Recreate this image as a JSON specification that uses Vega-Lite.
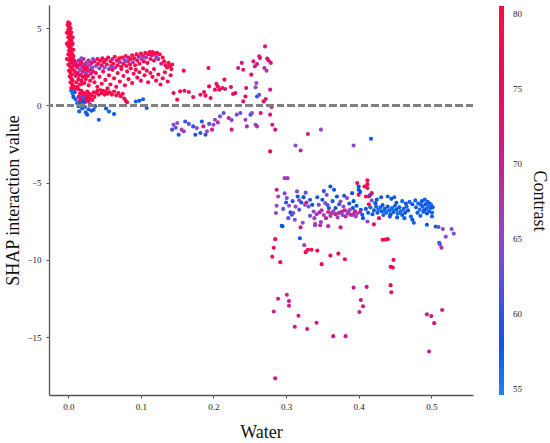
{
  "$schema": "https://vega.github.io/schema/vega-lite/v6.json",
  "width": 424,
  "height": 390,
  "autosize": {"type": "none"},
  "padding": {"left": 49, "top": 5, "right": 77, "bottom": 48},
  "config": {"view": {"stroke": null}, "font": "Liberation Serif"},
  "data": {
    "values": [
      {"w":0.000,"s":5.38,"c":80},{"w":0.002,"s":5.28,"c":80},{"w":-0.001,"s":5.2,"c":79},{"w":0.001,"s":5.1,"c":80},{"w":0.003,"s":5.0,"c":79},{"w":0.000,"s":4.92,"c":80},{"w":0.002,"s":4.82,"c":80},{"w":0.004,"s":4.72,"c":79},{"w":0.001,"s":4.62,"c":80},{"w":0.003,"s":4.52,"c":79},{"w":0.000,"s":4.42,"c":80},{"w":0.002,"s":4.33,"c":80},{"w":0.004,"s":4.22,"c":79},{"w":0.001,"s":4.12,"c":80},{"w":0.003,"s":4.02,"c":80},{"w":0.005,"s":3.92,"c":78},{"w":0.000,"s":3.85,"c":80},{"w":0.002,"s":3.75,"c":79},{"w":0.004,"s":3.65,"c":80},{"w":0.001,"s":3.55,"c":80},{"w":0.003,"s":3.45,"c":79},{"w":0.005,"s":3.35,"c":78},{"w":0.000,"s":3.3,"c":80},{"w":0.002,"s":3.2,"c":79},{"w":0.004,"s":3.1,"c":80},{"w":0.006,"s":3.02,"c":77},{"w":0.001,"s":2.95,"c":80},{"w":0.003,"s":2.85,"c":79},{"w":0.005,"s":2.75,"c":78},{"w":0.000,"s":2.65,"c":80},{"w":0.002,"s":2.55,"c":79},{"w":0.004,"s":2.45,"c":80},{"w":0.006,"s":2.35,"c":77},{"w":0.001,"s":2.25,"c":80},{"w":0.003,"s":2.12,"c":79},{"w":0.005,"s":2.0,"c":78},{"w":0.002,"s":1.88,"c":80},{"w":0.004,"s":1.75,"c":79},{"w":0.006,"s":1.62,"c":78},{"w":0.003,"s":1.5,"c":80},{"w":0.005,"s":1.38,"c":79},{"w":0.007,"s":1.25,"c":78},{"w":0.004,"s":1.12,"c":80},
      {"w":0.006,"s":4.4,"c":79},{"w":0.006,"s":4.0,"c":78},{"w":0.007,"s":3.6,"c":79},{"w":0.007,"s":3.2,"c":78},{"w":0.008,"s":2.9,"c":77},{"w":-0.002,"s":4.7,"c":80},{"w":-0.002,"s":4.0,"c":80},{"w":-0.002,"s":3.0,"c":80},
      {"w":0.008,"s":2.6,"c":76},{"w":0.009,"s":2.2,"c":79},{"w":0.010,"s":1.9,"c":78},{"w":0.010,"s":2.75,"c":72},{"w":0.011,"s":1.5,"c":79},{"w":0.012,"s":2.45,"c":70},{"w":0.012,"s":1.2,"c":80},{"w":0.013,"s":2.1,"c":75},{"w":0.014,"s":2.9,"c":68},{"w":0.014,"s":1.7,"c":78},{"w":0.015,"s":2.6,"c":73},{"w":0.016,"s":2.3,"c":66},{"w":0.016,"s":1.35,"c":79},{"w":0.017,"s":2.0,"c":77},{"w":0.018,"s":2.8,"c":74},{"w":0.018,"s":1.6,"c":76},{"w":0.019,"s":2.5,"c":65},{"w":0.020,"s":2.2,"c":72},{"w":0.020,"s":1.85,"c":78},{"w":0.021,"s":3.0,"c":70},{"w":0.022,"s":2.65,"c":67},{"w":0.022,"s":1.45,"c":79},{"w":0.023,"s":2.35,"c":75},{"w":0.024,"s":2.05,"c":64},{"w":0.024,"s":1.7,"c":77},{"w":0.025,"s":2.75,"c":72},{"w":0.026,"s":2.5,"c":78},{"w":0.026,"s":2.2,"c":69},{"w":0.027,"s":1.9,"c":76},{"w":0.028,"s":2.9,"c":73},{"w":0.028,"s":1.3,"c":78},{"w":0.029,"s":2.6,"c":66},{"w":0.030,"s":2.3,"c":74},{"w":0.030,"s":1.6,"c":79},{"w":0.031,"s":2.05,"c":70},{"w":0.032,"s":2.75,"c":76},{"w":0.033,"s":2.45,"c":64},{"w":0.034,"s":1.8,"c":77},{"w":0.034,"s":2.2,"c":72},{"w":0.011,"s":2.0,"c":74},{"w":0.013,"s":2.6,"c":77},{"w":0.015,"s":1.95,"c":71},{"w":0.017,"s":2.7,"c":79},{"w":0.019,"s":1.4,"c":80},{"w":0.021,"s":2.45,"c":76},{"w":0.023,"s":1.9,"c":79},{"w":0.025,"s":2.35,"c":79},{"w":0.027,"s":2.8,"c":65},{"w":0.009,"s":1.05,"c":78},{"w":0.014,"s":1.05,"c":79},{"w":0.018,"s":3.05,"c":67},
      {"w":0.036,"s":2.85,"c":78},{"w":0.038,"s":2.55,"c":66},{"w":0.040,"s":3.0,"c":79},{"w":0.041,"s":2.7,"c":77},{"w":0.043,"s":2.4,"c":64},{"w":0.044,"s":2.9,"c":80},{"w":0.046,"s":2.6,"c":72},{"w":0.047,"s":3.05,"c":78},{"w":0.049,"s":2.8,"c":79},{"w":0.050,"s":2.45,"c":65},{"w":0.052,"s":2.95,"c":77},{"w":0.053,"s":2.65,"c":80},{"w":0.055,"s":3.1,"c":76},{"w":0.056,"s":2.35,"c":67},{"w":0.058,"s":2.85,"c":79},{"w":0.059,"s":2.55,"c":78},{"w":0.061,"s":3.0,"c":70},{"w":0.062,"s":2.7,"c":80},{"w":0.064,"s":3.15,"c":78},{"w":0.065,"s":2.45,"c":66},{"w":0.067,"s":2.9,"c":77},{"w":0.068,"s":2.6,"c":79},{"w":0.070,"s":3.05,"c":79},{"w":0.071,"s":2.8,"c":68},{"w":0.073,"s":2.5,"c":78},{"w":0.074,"s":3.1,"c":80},{"w":0.076,"s":2.7,"c":76},{"w":0.077,"s":2.95,"c":65},{"w":0.079,"s":3.2,"c":78},{"w":0.080,"s":2.55,"c":79},{"w":0.082,"s":2.85,"c":77},{"w":0.083,"s":3.1,"c":71},{"w":0.085,"s":2.65,"c":80},{"w":0.086,"s":3.0,"c":78},{"w":0.088,"s":3.25,"c":79},{"w":0.089,"s":2.8,"c":66},{"w":0.091,"s":3.05,"c":77},{"w":0.092,"s":2.6,"c":79},{"w":0.094,"s":3.3,"c":78},{"w":0.095,"s":2.9,"c":80},{"w":0.097,"s":3.15,"c":69},{"w":0.098,"s":2.7,"c":78},{"w":0.100,"s":3.35,"c":79},{"w":0.101,"s":3.0,"c":77},{"w":0.103,"s":3.2,"c":80},{"w":0.104,"s":2.85,"c":76},{"w":0.106,"s":3.4,"c":78},{"w":0.107,"s":3.1,"c":67},{"w":0.109,"s":2.75,"c":79},{"w":0.110,"s":3.3,"c":78},{"w":0.112,"s":3.45,"c":80},{"w":0.113,"s":3.0,"c":77},{"w":0.115,"s":3.25,"c":79},{"w":0.116,"s":3.45,"c":78},{"w":0.118,"s":2.9,"c":76},{"w":0.119,"s":3.35,"c":79},{"w":0.121,"s":3.15,"c":65},{"w":0.122,"s":3.4,"c":78},{"w":0.124,"s":3.0,"c":77},{"w":0.126,"s":3.3,"c":80},{"w":0.128,"s":2.7,"c":70},{"w":0.130,"s":3.1,"c":78},{"w":0.132,"s":2.85,"c":79},{"w":0.134,"s":2.6,"c":77},{"w":0.136,"s":2.45,"c":80},{"w":0.138,"s":2.75,"c":78},{"w":0.140,"s":2.55,"c":79},{"w":0.142,"s":2.35,"c":78},{"w":0.143,"s":2.65,"c":77},
      {"w":0.034,"s":3.0,"c":64},{"w":0.060,"s":2.5,"c":63},{"w":0.080,"s":2.85,"c":64},{"w":0.101,"s":3.07,"c":65},{"w":0.122,"s":3.05,"c":64},
      {"w":0.036,"s":1.5,"c":79},{"w":0.038,"s":2.1,"c":78},{"w":0.040,"s":1.2,"c":80},{"w":0.043,"s":1.85,"c":77},{"w":0.046,"s":1.4,"c":79},{"w":0.048,"s":2.2,"c":78},{"w":0.051,"s":1.65,"c":80},{"w":0.054,"s":1.1,"c":79},{"w":0.056,"s":1.95,"c":76},{"w":0.058,"s":1.35,"c":78},{"w":0.061,"s":2.3,"c":79},{"w":0.063,"s":1.75,"c":80},{"w":0.066,"s":1.2,"c":78},{"w":0.068,"s":2.1,"c":77},{"w":0.071,"s":1.55,"c":79},{"w":0.073,"s":2.35,"c":80},{"w":0.076,"s":1.9,"c":78},{"w":0.078,"s":1.3,"c":79},{"w":0.081,"s":2.2,"c":76},{"w":0.083,"s":1.7,"c":80},{"w":0.086,"s":2.4,"c":78},{"w":0.088,"s":1.45,"c":79},{"w":0.090,"s":2.05,"c":77},{"w":0.093,"s":2.3,"c":80},{"w":0.095,"s":1.8,"c":78},{"w":0.098,"s":2.15,"c":79},{"w":0.100,"s":1.6,"c":76},{"w":0.103,"s":2.4,"c":78},{"w":0.105,"s":1.95,"c":80},{"w":0.108,"s":2.25,"c":79},{"w":0.110,"s":1.5,"c":78},{"w":0.113,"s":2.1,"c":77},{"w":0.116,"s":1.85,"c":79},{"w":0.118,"s":2.35,"c":80},{"w":0.121,"s":1.6,"c":78},{"w":0.124,"s":2.0,"c":79},{"w":0.127,"s":1.35,"c":77},{"w":0.130,"s":1.75,"c":78},{"w":0.133,"s":2.15,"c":79},{"w":0.137,"s":1.55,"c":78},{"w":0.141,"s":1.95,"c":76},
      {"w":0.016,"s":0.75,"c":79},{"w":0.017,"s":0.45,"c":78},{"w":0.018,"s":0.95,"c":80},{"w":0.019,"s":0.6,"c":79},{"w":0.020,"s":0.3,"c":77},{"w":0.021,"s":0.8,"c":80},{"w":0.022,"s":0.5,"c":78},{"w":0.023,"s":0.2,"c":79},{"w":0.024,"s":0.7,"c":80},{"w":0.025,"s":0.4,"c":76},{"w":0.026,"s":0.9,"c":79},{"w":0.027,"s":0.55,"c":78},{"w":0.028,"s":0.25,"c":80},{"w":0.029,"s":0.75,"c":79},{"w":0.030,"s":0.45,"c":77},{"w":0.032,"s":0.65,"c":80},{"w":0.033,"s":0.35,"c":78},{"w":0.035,"s":0.85,"c":79},{"w":0.036,"s":0.55,"c":80},{"w":0.038,"s":0.8,"c":78},{"w":0.040,"s":0.95,"c":79},{"w":0.042,"s":0.7,"c":77},{"w":0.044,"s":1.0,"c":80},{"w":0.046,"s":0.8,"c":79},{"w":0.048,"s":0.95,"c":78},{"w":0.050,"s":0.7,"c":80},{"w":0.052,"s":0.9,"c":79},{"w":0.054,"s":0.75,"c":78},{"w":0.057,"s":0.85,"c":79},{"w":0.060,"s":0.7,"c":80},{"w":0.063,"s":0.9,"c":77},{"w":0.066,"s":0.65,"c":79},{"w":0.069,"s":0.8,"c":78},{"w":0.072,"s":0.6,"c":80},{"w":0.075,"s":0.75,"c":79},{"w":0.077,"s":0.45,"c":78},{"w":0.079,"s":0.3,"c":76},{"w":0.081,"s":0.2,"c":79},{"w":0.014,"s":0.55,"c":70},{"w":0.015,"s":0.25,"c":78},
      {"w":0.004,"s":0.95,"c":57},{"w":0.006,"s":0.75,"c":56},{"w":0.007,"s":0.55,"c":58},{"w":0.009,"s":0.85,"c":60},{"w":0.010,"s":0.4,"c":57},{"w":0.012,"s":0.15,"c":56},{"w":0.014,"s":-0.05,"c":58},{"w":0.015,"s":-0.39,"c":57},{"w":0.017,"s":0.1,"c":59},{"w":0.019,"s":-0.2,"c":57},{"w":0.021,"s":0.25,"c":58},{"w":0.023,"s":-0.1,"c":56},{"w":0.024,"s":-0.45,"c":57},{"w":0.026,"s":-0.6,"c":58},{"w":0.028,"s":-0.25,"c":60},{"w":0.030,"s":0.05,"c":57},{"w":0.032,"s":-0.35,"c":58},{"w":0.035,"s":-0.28,"c":57},{"w":0.037,"s":-0.05,"c":59},{"w":0.042,"s":-0.93,"c":57},{"w":0.052,"s":-0.2,"c":58},{"w":0.056,"s":-0.4,"c":57},{"w":0.063,"s":-0.56,"c":58},{"w":0.093,"s":0.25,"c":57},{"w":0.098,"s":0.3,"c":58},{"w":0.103,"s":0.4,"c":57},{"w":0.108,"s":-0.17,"c":57},{"w":0.020,"s":0.55,"c":62},{"w":0.018,"s":0.0,"c":63},
      {"w":0.145,"s":0.8,"c":75},{"w":0.150,"s":0.37,"c":76},{"w":0.154,"s":0.91,"c":77},{"w":0.159,"s":2.25,"c":77},{"w":0.160,"s":0.95,"c":76},{"w":0.166,"s":0.87,"c":75},{"w":0.172,"s":0.54,"c":76},{"w":0.182,"s":0.69,"c":77},{"w":0.187,"s":0.87,"c":76},{"w":0.189,"s":0.63,"c":74},{"w":0.193,"s":2.42,"c":76},{"w":0.194,"s":1.23,"c":75},{"w":0.196,"s":0.48,"c":77},{"w":0.202,"s":1.02,"c":76},{"w":0.204,"s":1.39,"c":72},{"w":0.206,"s":1.23,"c":74},{"w":0.208,"s":1.02,"c":76},{"w":0.212,"s":1.13,"c":75},{"w":0.215,"s":1.67,"c":76},{"w":0.216,"s":1.06,"c":73},{"w":0.224,"s":1.19,"c":76},{"w":0.227,"s":0.74,"c":74},{"w":0.230,"s":0.8,"c":76},{"w":0.234,"s":2.42,"c":70},{"w":0.239,"s":2.75,"c":71},{"w":0.241,"s":2.31,"c":72},{"w":0.241,"s":0.26,"c":72},{"w":0.244,"s":0.58,"c":75},{"w":0.245,"s":1.13,"c":74},{"w":0.252,"s":1.99,"c":74},{"w":0.255,"s":2.85,"c":71},{"w":0.257,"s":2.53,"c":70},{"w":0.258,"s":1.17,"c":64},{"w":0.259,"s":1.45,"c":65},{"w":0.260,"s":2.68,"c":72},{"w":0.260,"s":0.58,"c":60},{"w":0.263,"s":0.69,"c":63},{"w":0.263,"s":3.18,"c":70},{"w":0.264,"s":3.07,"c":73},{"w":0.270,"s":2.42,"c":68},{"w":0.271,"s":3.82,"c":72},{"w":0.272,"s":0.41,"c":71},{"w":0.273,"s":2.25,"c":67},{"w":0.274,"s":3.03,"c":74},{"w":0.276,"s":2.9,"c":72},{"w":0.278,"s":1.02,"c":72},{"w":0.279,"s":2.75,"c":71},{"w":0.265,"s":-0.49,"c":73},{"w":0.278,"s":-0.6,"c":72},{"w":0.280,"s":-0.1,"c":74},{"w":0.281,"s":-1.25,"c":71},{"w":0.285,"s":-1.57,"c":72},{"w":0.278,"s":-2.98,"c":76},{"w":0.225,"s":-1.57,"c":72},{"w":0.269,"s":0.26,"c":75},
      {"w":0.143,"s":-1.57,"c":61},{"w":0.145,"s":-1.25,"c":64},{"w":0.150,"s":-1.14,"c":65},{"w":0.152,"s":-1.9,"c":59},{"w":0.156,"s":-1.57,"c":66},{"w":0.159,"s":-1.68,"c":67},{"w":0.161,"s":-1.04,"c":60},{"w":0.172,"s":-1.36,"c":60},{"w":0.175,"s":-1.9,"c":59},{"w":0.177,"s":-1.47,"c":65},{"w":0.182,"s":-1.79,"c":60},{"w":0.184,"s":-1.04,"c":59},{"w":0.186,"s":-1.36,"c":70},{"w":0.189,"s":-1.9,"c":60},{"w":0.191,"s":-1.68,"c":66},{"w":0.198,"s":-1.57,"c":70},{"w":0.200,"s":-1.25,"c":65},{"w":0.202,"s":-0.93,"c":64},{"w":0.209,"s":-0.71,"c":64},{"w":0.214,"s":-0.49,"c":62},{"w":0.221,"s":-0.82,"c":70},{"w":0.232,"s":-0.6,"c":64},{"w":0.237,"s":-0.49,"c":62},{"w":0.244,"s":-0.93,"c":66},{"w":0.246,"s":-1.36,"c":67},{"w":0.251,"s":-0.6,"c":60},{"w":0.253,"s":-0.49,"c":65},{"w":0.258,"s":-1.25,"c":66},{"w":0.260,"s":-1.36,"c":67},{"w":0.148,"s":-1.45,"c":63},{"w":0.166,"s":-1.2,"c":62},{"w":0.194,"s":-1.2,"c":61},{"w":0.206,"s":-1.1,"c":68},{"w":0.225,"s":-0.95,"c":63},
      {"w":0.313,"s":-2.6,"c":64},{"w":0.320,"s":-2.92,"c":70},{"w":0.330,"s":-1.85,"c":70},{"w":0.348,"s":-1.57,"c":65},{"w":0.393,"s":-2.6,"c":64},{"w":0.417,"s":-2.16,"c":58},{"w":0.298,"s":-4.71,"c":66},{"w":0.302,"s":-4.71,"c":67},
      {"w":0.287,"s":-5.46,"c":70},{"w":0.289,"s":-5.9,"c":66},{"w":0.287,"s":-6.5,"c":65},{"w":0.286,"s":-6.97,"c":66},{"w":0.294,"s":-7.8,"c":58},{"w":0.301,"s":-6.0,"c":64},{"w":0.300,"s":-6.29,"c":59},{"w":0.304,"s":-6.5,"c":65},{"w":0.306,"s":-6.93,"c":59},{"w":0.308,"s":-7.08,"c":60},{"w":0.310,"s":-6.97,"c":64},{"w":0.313,"s":-6.55,"c":66},{"w":0.315,"s":-5.57,"c":64},{"w":0.316,"s":-5.9,"c":59},{"w":0.318,"s":-6.14,"c":65},{"w":0.321,"s":-6.29,"c":59},{"w":0.324,"s":-5.94,"c":58},{"w":0.326,"s":-6.44,"c":65},{"w":0.328,"s":-6.29,"c":69},{"w":0.331,"s":-6.55,"c":64},{"w":0.333,"s":-6.11,"c":59},{"w":0.336,"s":-6.44,"c":58},{"w":0.338,"s":-6.87,"c":65},{"w":0.339,"s":-7.3,"c":66},{"w":0.340,"s":-7.69,"c":69},{"w":0.345,"s":-6.44,"c":64},{"w":0.346,"s":-6.93,"c":69},{"w":0.350,"s":-6.11,"c":58},{"w":0.354,"s":-6.33,"c":65},{"w":0.355,"s":-7.3,"c":70},{"w":0.356,"s":-5.79,"c":64},{"w":0.359,"s":-6.65,"c":59},{"w":0.361,"s":-5.25,"c":58},{"w":0.363,"s":-6.97,"c":69},{"w":0.366,"s":-5.46,"c":58},{"w":0.368,"s":-6.65,"c":58},{"w":0.370,"s":-5.9,"c":58},{"w":0.372,"s":-6.97,"c":65},{"w":0.375,"s":-6.22,"c":65},{"w":0.377,"s":-6.87,"c":69},{"w":0.379,"s":-6.55,"c":65},{"w":0.382,"s":-7.19,"c":69},{"w":0.384,"s":-6.0,"c":65},{"w":0.386,"s":-6.87,"c":66},{"w":0.389,"s":-7.08,"c":70},{"w":0.391,"s":-5.68,"c":58},{"w":0.392,"s":-6.65,"c":58},{"w":0.394,"s":-6.97,"c":69},{"w":0.396,"s":-7.19,"c":66},{"w":0.398,"s":-5.03,"c":78},{"w":0.400,"s":-5.79,"c":78},{"w":0.400,"s":-5.46,"c":58},{"w":0.403,"s":-6.76,"c":58},{"w":0.405,"s":-7.08,"c":58},{"w":0.406,"s":-7.3,"c":58},{"w":0.408,"s":-5.25,"c":78},{"w":0.410,"s":-5.9,"c":77},
      {"w":0.342,"s":-7.05,"c":67},{"w":0.349,"s":-6.8,"c":68},{"w":0.352,"s":-7.1,"c":66},{"w":0.358,"s":-6.9,"c":70},{"w":0.361,"s":-7.15,"c":67},{"w":0.365,"s":-6.85,"c":66},{"w":0.368,"s":-7.05,"c":71},{"w":0.371,"s":-7.25,"c":66},{"w":0.374,"s":-6.95,"c":68},{"w":0.378,"s":-7.1,"c":64},{"w":0.381,"s":-6.8,"c":70},{"w":0.385,"s":-7.0,"c":67},{"w":0.388,"s":-6.75,"c":65},{"w":0.391,"s":-7.1,"c":68},{"w":0.395,"s":-6.85,"c":71},{"w":0.398,"s":-7.0,"c":66},{"w":0.402,"s":-6.9,"c":69},{"w":0.296,"s":-6.7,"c":63},{"w":0.298,"s":-5.7,"c":64},{"w":0.303,"s":-7.3,"c":62},{"w":0.309,"s":-6.2,"c":60},{"w":0.312,"s":-7.4,"c":64},{"w":0.318,"s":-6.75,"c":62},{"w":0.323,"s":-7.6,"c":65},{"w":0.327,"s":-5.65,"c":62},{"w":0.333,"s":-7.15,"c":63},{"w":0.343,"s":-5.95,"c":60},{"w":0.348,"s":-7.55,"c":67},{"w":0.352,"s":-5.55,"c":59},{"w":0.357,"s":-6.45,"c":61},{"w":0.364,"s":-6.2,"c":59},{"w":0.373,"s":-6.4,"c":60},{"w":0.380,"s":-5.85,"c":59},{"w":0.387,"s":-6.35,"c":59},{"w":0.393,"s":-6.2,"c":58},{"w":0.397,"s":-6.5,"c":58},
      {"w":0.412,"s":-4.85,"c":79},{"w":0.412,"s":-5.1,"c":78},{"w":0.412,"s":-5.35,"c":77},{"w":0.400,"s":-5.25,"c":58},{"w":0.402,"s":-5.6,"c":58},{"w":0.414,"s":-5.9,"c":76},{"w":0.416,"s":-5.79,"c":58},{"w":0.418,"s":-6.16,"c":64},{"w":0.423,"s":-6.33,"c":58},{"w":0.414,"s":-6.4,"c":76},{"w":0.412,"s":-7.52,"c":66},{"w":0.428,"s":-7.3,"c":77},{"w":0.421,"s":-7.7,"c":76},{"w":0.418,"s":-5.68,"c":72},
      {"w":0.410,"s":-6.7,"c":59},{"w":0.413,"s":-6.95,"c":58},{"w":0.416,"s":-6.6,"c":57},{"w":0.419,"s":-7.05,"c":58},{"w":0.421,"s":-6.8,"c":59},{"w":0.424,"s":-6.55,"c":57},{"w":0.426,"s":-6.95,"c":58},{"w":0.430,"s":-6.6,"c":57},{"w":0.432,"s":-6.85,"c":58},{"w":0.434,"s":-7.1,"c":57},{"w":0.436,"s":-6.7,"c":58},{"w":0.438,"s":-6.95,"c":57},{"w":0.440,"s":-6.55,"c":58},{"w":0.442,"s":-6.8,"c":57},{"w":0.444,"s":-7.05,"c":58},{"w":0.446,"s":-6.65,"c":57},{"w":0.448,"s":-6.9,"c":58},{"w":0.450,"s":-6.5,"c":57},{"w":0.452,"s":-6.75,"c":58},{"w":0.454,"s":-7.0,"c":57},{"w":0.456,"s":-6.6,"c":58},{"w":0.458,"s":-6.85,"c":57},{"w":0.460,"s":-7.1,"c":58},{"w":0.462,"s":-6.7,"c":57},{"w":0.464,"s":-6.95,"c":58},{"w":0.466,"s":-6.55,"c":57},{"w":0.468,"s":-6.8,"c":58},{"w":0.427,"s":-6.75,"c":56},{"w":0.437,"s":-6.9,"c":56},{"w":0.447,"s":-6.75,"c":56},{"w":0.457,"s":-6.95,"c":56},{"w":0.433,"s":-6.45,"c":58},{"w":0.443,"s":-7.2,"c":59},{"w":0.453,"s":-7.25,"c":58},{"w":0.463,"s":-7.3,"c":57},
      {"w":0.440,"s":-5.9,"c":57},{"w":0.445,"s":-6.05,"c":58},{"w":0.449,"s":-5.95,"c":57},{"w":0.452,"s":-6.3,"c":58},{"w":0.460,"s":-6.2,"c":57},{"w":0.465,"s":-6.35,"c":58},{"w":0.470,"s":-6.25,"c":57},{"w":0.474,"s":-6.4,"c":58},{"w":0.478,"s":-6.15,"c":57},{"w":0.425,"s":-6.1,"c":58},{"w":0.431,"s":-5.95,"c":59},
      {"w":0.472,"s":-7.2,"c":57},{"w":0.474,"s":-7.4,"c":58},{"w":0.476,"s":-7.6,"c":57},
      {"w":0.479,"s":-6.6,"c":57},{"w":0.481,"s":-6.95,"c":58},{"w":0.482,"s":-6.35,"c":57},{"w":0.484,"s":-6.75,"c":56},{"w":0.485,"s":-7.15,"c":57},{"w":0.487,"s":-6.2,"c":58},{"w":0.488,"s":-6.55,"c":57},{"w":0.489,"s":-6.9,"c":56},{"w":0.491,"s":-6.1,"c":57},{"w":0.492,"s":-6.4,"c":58},{"w":0.493,"s":-6.7,"c":57},{"w":0.494,"s":-7.0,"c":58},{"w":0.495,"s":-6.25,"c":57},{"w":0.496,"s":-6.55,"c":56},{"w":0.497,"s":-6.85,"c":57},{"w":0.498,"s":-6.35,"c":58},{"w":0.499,"s":-6.65,"c":57},{"w":0.500,"s":-6.45,"c":56},{"w":0.501,"s":-6.95,"c":57},{"w":0.502,"s":-6.6,"c":58},{"w":0.501,"s":-7.19,"c":57},{"w":0.494,"s":-7.73,"c":58},{"w":0.486,"s":-6.45,"c":59},{"w":0.490,"s":-6.8,"c":58},
      {"w":0.506,"s":-7.84,"c":59},{"w":0.510,"s":-7.87,"c":62},{"w":0.516,"s":-8.0,"c":64},{"w":0.528,"s":-8.0,"c":64},{"w":0.531,"s":-8.3,"c":64},{"w":0.520,"s":-8.5,"c":65},{"w":0.511,"s":-8.9,"c":60},{"w":0.512,"s":-9.0,"c":63},{"w":0.514,"s":-9.22,"c":69},
      {"w":0.295,"s":-7.82,"c":58},{"w":0.320,"s":-7.9,"c":70},{"w":0.319,"s":-8.6,"c":58},{"w":0.285,"s":-8.66,"c":74},{"w":0.283,"s":-9.22,"c":76},{"w":0.281,"s":-9.8,"c":75},{"w":0.292,"s":-10.15,"c":75},{"w":0.325,"s":-9.05,"c":66},{"w":0.327,"s":-9.5,"c":76},{"w":0.330,"s":-9.35,"c":77},{"w":0.335,"s":-9.35,"c":77},{"w":0.343,"s":-9.4,"c":76},{"w":0.340,"s":-7.76,"c":66},{"w":0.347,"s":-7.76,"c":68},{"w":0.358,"s":-7.82,"c":67},{"w":0.349,"s":-10.28,"c":75},{"w":0.361,"s":-9.72,"c":77},{"w":0.372,"s":-9.6,"c":76},{"w":0.375,"s":-7.9,"c":70},{"w":0.381,"s":-9.96,"c":77},{"w":0.393,"s":-11.8,"c":70},{"w":0.403,"s":-12.6,"c":71},{"w":0.406,"s":-13.0,"c":71},{"w":0.401,"s":-13.38,"c":70},{"w":0.411,"s":-11.75,"c":70},{"w":0.433,"s":-8.7,"c":76},{"w":0.437,"s":-8.68,"c":77},{"w":0.440,"s":-8.66,"c":76},{"w":0.444,"s":-10.45,"c":77},{"w":0.447,"s":-10.5,"c":76},{"w":0.448,"s":-10.0,"c":77},{"w":0.444,"s":-11.64,"c":76},{"w":0.445,"s":-12.1,"c":73},{"w":0.494,"s":-13.53,"c":70},{"w":0.500,"s":-13.64,"c":71},{"w":0.504,"s":-14.1,"c":72},{"w":0.515,"s":-13.25,"c":70},{"w":0.497,"s":-15.93,"c":71},{"w":0.283,"s":-13.34,"c":70},{"w":0.289,"s":-12.52,"c":70},{"w":0.301,"s":-12.26,"c":70},{"w":0.304,"s":-12.67,"c":71},{"w":0.304,"s":-12.97,"c":70},{"w":0.317,"s":-13.62,"c":70},{"w":0.312,"s":-14.33,"c":71},{"w":0.329,"s":-14.48,"c":72},{"w":0.342,"s":-14.07,"c":70},{"w":0.365,"s":-14.94,"c":71},{"w":0.382,"s":-14.94,"c":70},{"w":0.285,"s":-17.67,"c":71}
    ]
  },
  "layer": [
    {
      "mark": {"type": "circle", "size": 17, "opacity": 1},
      "encoding": {
        "x": {
          "field": "w",
          "type": "quantitative",
          "title": "Water",
          "scale": {"domain": [-0.0266, 0.5575], "nice": false, "zero": false},
          "axis": {
            "values": [0, 0.1, 0.2, 0.3, 0.4, 0.5],
            "format": ".1f",
            "grid": false,
            "domainColor": "#555",
            "domainWidth": 1.3,
            "tickColor": "#555",
            "tickSize": 3,
            "labelFont": "Liberation Serif",
            "labelFontSize": 9,
            "labelColor": "#222",
            "labelPadding": 4,
            "titleFont": "Liberation Serif",
            "titleFontSize": 18,
            "titleFontWeight": "normal",
            "titleColor": "#111",
            "titlePadding": 12
          }
        },
        "y": {
          "field": "s",
          "type": "quantitative",
          "title": "SHAP interaction value",
          "scale": {"domain": [-18.75, 6.5], "nice": false, "zero": false},
          "axis": {
            "values": [-15, -10, -5, 0, 5],
            "grid": false,
            "domainColor": "#555",
            "domainWidth": 1.3,
            "tickColor": "#555",
            "tickSize": 3,
            "labelFont": "Liberation Serif",
            "labelFontSize": 9,
            "labelColor": "#222",
            "labelPadding": 5,
            "titleFont": "Liberation Serif",
            "titleFontSize": 18,
            "titleFontWeight": "normal",
            "titleColor": "#111",
            "titlePadding": 4
          }
        },
        "color": {
          "field": "c",
          "type": "quantitative",
          "title": "Contrast",
          "scale": {
            "domain": [54.6, 58, 62, 65, 70, 75, 80.5],
            "range": ["#1f84ee", "#0a55e4", "#5a4fdc", "#9448cc", "#c4208f", "#f0085e", "#ff0a45"],
            "interpolate": "rgb"
          },
          "legend": {
            "orient": "none",
            "legendX": 450,
            "legendY": 1,
            "direction": "vertical",
            "gradientLength": 389,
            "gradientThickness": 5,
            "gradientStrokeWidth": 0,
            "values": [55, 60, 65, 70, 75, 80],
            "labelFont": "Liberation Serif",
            "labelFontSize": 9,
            "labelColor": "#222",
            "labelOffset": 9,
            "titleFont": "Liberation Serif",
            "titleFontSize": 18,
            "titleFontWeight": "normal",
            "titleColor": "#111",
            "titleOrient": "right",
            "titleAngle": 270,
            "titleAnchor": "middle",
            "titlePadding": 8
          }
        }
      }
    },
    {
      "mark": {"type": "rule", "color": "#808080", "strokeDash": [7, 3.5], "strokeWidth": 1.7},
      "encoding": {"y": {"datum": 0}}
    }
  ]
}
